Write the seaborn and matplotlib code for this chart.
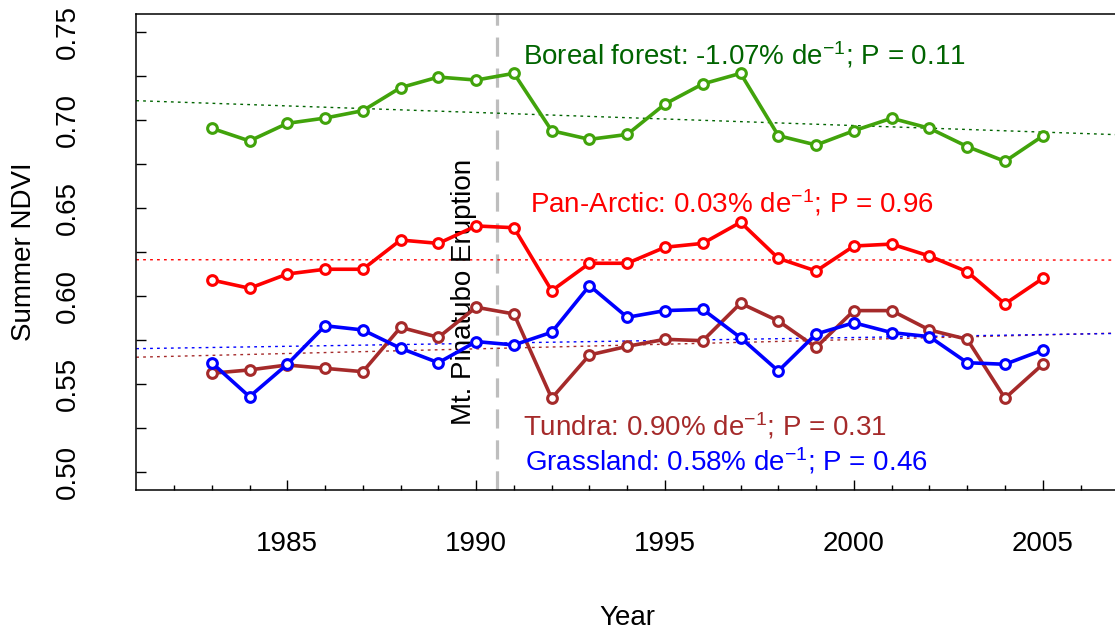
import numpy as np
import pandas as pd
import matplotlib
matplotlib.use("Agg")
import matplotlib.pyplot as plt
import seaborn as sns

# ----------------------------
# Data
# ----------------------------
years = list(range(1983, 2006))

boreal = [0.6953, 0.6881, 0.6981, 0.7011, 0.7053, 0.7184, 0.7244, 0.7227,
          0.7265, 0.6939, 0.6890, 0.6918, 0.7091, 0.7205, 0.7265, 0.6911,
          0.6858, 0.6939, 0.7010, 0.6953, 0.6849, 0.6765, 0.6909]
pan_arctic = [0.6091, 0.6044, 0.6125, 0.6152, 0.6152, 0.6318, 0.6299, 0.6398,
              0.6388, 0.6030, 0.6186, 0.6186, 0.6277, 0.6299, 0.6419, 0.6214,
              0.6142, 0.6284, 0.6295, 0.6227, 0.6138, 0.5955, 0.6100]
tundra = [0.5561, 0.5580, 0.5608, 0.5589, 0.5570, 0.5822, 0.5765, 0.5936,
          0.5898, 0.5419, 0.5665, 0.5714, 0.5754, 0.5746, 0.5959, 0.5858,
          0.5708, 0.5917, 0.5917, 0.5807, 0.5754, 0.5419, 0.5612]
grassland = [0.5621, 0.5428, 0.5612, 0.5831, 0.5807, 0.5703, 0.5621, 0.5741,
             0.5722, 0.5794, 0.6059, 0.5879, 0.5917, 0.5924, 0.5763, 0.5574,
             0.5784, 0.5848, 0.5792, 0.5769, 0.5621, 0.5612, 0.5693]

series_names = ["Boreal forest", "Pan-Arctic", "Tundra", "Grassland"]
trend_labels = ["-1.07", "0.03", "0.90", "0.58"]
p_values = ["0.11", "0.96", "0.31", "0.46"]

eruption_year = 1990.55
x_major = [1985, 1990, 1995, 2000, 2005]
y_major = [0.50, 0.55, 0.60, 0.65, 0.70, 0.75]

line_colors = {"Boreal forest": "#41A30B", "Pan-Arctic": "#FF0000",
               "Tundra": "#A52A2A", "Grassland": "#0000FF"}
trend_colors = {"Boreal forest": "#006400", "Pan-Arctic": "#FF0000",
                "Tundra": "#A52A2A", "Grassland": "#0000FF"}
text_colors = {"Boreal forest": "#006400", "Pan-Arctic": "#FF0000",
               "Tundra": "#A52A2A", "Grassland": "#0000FF"}

df = pd.DataFrame({"Year": years * 4,
                   "NDVI": boreal + pan_arctic + tundra + grassland,
                   "Region": sum([[n] * len(years) for n in series_names], [])})

# ----------------------------
# Style
# ----------------------------
sns.set_style("white")
plt.rcParams["font.family"] = ["Liberation Sans", "DejaVu Sans"]
plt.rcParams["mathtext.fontset"] = "custom"
plt.rcParams["mathtext.rm"] = "Liberation Sans"
plt.rcParams["mathtext.default"] = "regular"
for key in ["text.color", "axes.labelcolor", "xtick.color", "ytick.color"]:
    plt.rcParams[key] = "black"

FS = 20
fig = plt.figure(figsize=(11.15, 6.34), dpi=100)
ax = fig.add_axes([136.2 / 1115, 144.4 / 634, 982.1 / 1115, 475.2 / 634])
ax.set_xlim(1981, 2007)
ax.set_ylim(0.49, 0.76)

# trend lines (linear fit over the full axis width)
for name in series_names:
    sub = df[df["Region"] == name]
    sns.regplot(data=sub, x="Year", y="NDVI", ax=ax, scatter=False, ci=None,
                truncate=False,
                line_kws={"color": trend_colors[name], "lw": 1.0,
                          "linestyle": (0, (2, 3)), "zorder": 2})

# Pinatubo eruption marker
ax.axvline(eruption_year, color="#BEBEBE", lw=2.3,
           linestyle=(0, (6, 3.7)), zorder=1)
ax.text(1989.68, 0.6023, "Mt. Pinatubo Eruption", rotation=90,
        ha="center", va="center", fontsize=FS, color="black")

# series
for name in series_names:
    sub = df[df["Region"] == name]
    c = line_colors[name]
    sns.lineplot(data=sub, x="Year", y="NDVI", ax=ax, color=c, lw=2.6,
                 marker="o", markersize=7, markeredgewidth=2.2,
                 markeredgecolor=c, markerfacecolor="white", zorder=3)

# annotation texts
text_pos = {"Boreal forest": (1991.24, 0.7313), "Pan-Arctic": (1991.43, 0.6477),
            "Tundra": (1991.24, 0.5210), "Grassland": (1991.30, 0.5011)}
for name, tr, p in zip(series_names, trend_labels, p_values):
    x, y = text_pos[name]
    ax.text(x, y, f"{name}: {tr}% de$^{{-1}}$; P = {p}", fontsize=FS,
            color=text_colors[name], ha="left", va="baseline")

# axes & ticks
ax.set_xticks(x_major)
ax.set_xticks(range(1982, 2007), minor=True)
ax.set_yticks(y_major)
ax.set_yticks(np.arange(0.525, 0.76, 0.05), minor=True)
ax.set_yticklabels([f"{v:.2f}" for v in y_major], rotation=90, va="center")
ax.tick_params(axis="x", which="major", direction="in", length=7.2, width=1.0,
               pad=29.5, labelsize=FS, bottom=True, color="black")
ax.tick_params(axis="x", which="minor", direction="in", length=3.6, width=1.0,
               bottom=True, color="black")
ax.tick_params(axis="y", which="both", direction="in", length=7.2, width=1.0,
               pad=40, labelsize=FS, left=True, color="black")

for side in ["left", "bottom", "top", "right"]:
    ax.spines[side].set_color("black")
    ax.spines[side].set_linewidth(1.1)

ax.set_xlabel("Year", fontsize=FS, va="baseline")
ax.xaxis.set_label_coords(0.5, (489.6 - 625) / 475.2)
ax.set_ylabel("Summer NDVI", fontsize=FS, va="center")
ax.yaxis.set_label_coords((24 - 136.2) / 982.1, 0.5)
ax.grid(False)

fig.savefig("out.png", dpi=100)
